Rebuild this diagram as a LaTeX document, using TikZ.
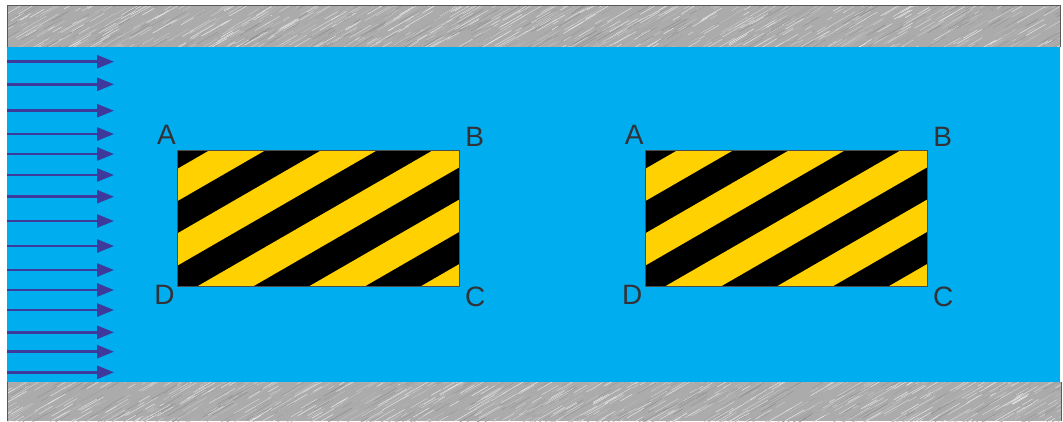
\documentclass[tikz,border=0pt]{standalone}
\usepackage{fontspec}
\setmainfont{Liberation Sans}
\usetikzlibrary{arrows.meta,calc}
\definecolor{flowblue}{RGB}{0,173,238}
\definecolor{hzyellow}{RGB}{255,209,0}
\definecolor{arrowcol}{RGB}{62,58,155}
\definecolor{labelcol}{RGB}{50,50,55}
\tikzset{
  flowarrow/.style={draw=arrowcol, line width=2.6pt, -{Triangle[length=17pt,width=13pt]}},
  hazard/.style={draw=gray!60!black, line width=0.6pt, inner sep=0pt,
    minimum width=281.3pt, minimum height=136.7pt,
    path picture={
      \fill[black] (path picture bounding box.south west) rectangle (path picture bounding box.north east);
      \foreach \k in {-1,...,4}{
        \pgfmathsetmacro\aa{32.3+111.7*\k}
        \pgfmathsetmacro\bb{\aa+55.85}
        \fill[hzyellow] ($(path picture bounding box.north west)+(\aa,0)$)
          -- ($(path picture bounding box.north west)+(\bb,0)$)
          -- ($(path picture bounding box.north west)+(\bb-240,138.6)$)
          -- ($(path picture bounding box.north west)+(\aa-240,138.6)$) -- cycle;
      }
    }},
  cornerlabel/.style={anchor=base, inner sep=0pt, text=labelcol, font=\fontsize{28}{32}\selectfont},
  wallframe/.style={draw=gray!70!black, line width=0.7pt}
}
\newcommand{\wallstreaks}[2]{%
  \foreach \i in {1,...,1600}{
    \pgfmathsetmacro\xa{rnd*1120-50}
    \pgfmathsetmacro\ya{#1+rnd*(#2-#1)}
    \pgfmathsetmacro\ll{5+rnd*28}
    \pgfmathtruncatemacro\cc{6+rnd*40}
    \draw[black!\cc, line width=0.45pt] (\xa,\ya) -- ++(0.866*\ll,-0.5*\ll);
  }%
}
\begin{document}
\begin{tikzpicture}[x=1pt,y=-1pt]
\useasboundingbox[fill=white] (0,0) rectangle (1063,421);
\pgfmathsetseed{7}
% top wall
\begin{scope}
  \clip (7,5) rectangle (1060,46.7);
  \fill[black!33] (7,5) rectangle (1060,46.7);
  \wallstreaks{0}{65}
\end{scope}
\draw[wallframe] (7,46.7) -- (7,5) -- (1060,5) -- (1060,46.7);
% bottom wall
\begin{scope}
  \clip (7,382) rectangle (1061,421);
  \fill[black!33] (7,382) rectangle (1061,421);
  \wallstreaks{375}{440}
\end{scope}
\draw[wallframe] (7,382) -- (7,421);
\draw[wallframe] (1061,382) -- (1061,421);
% fluid
\fill[flowblue] (7,46.7) rectangle (1060,382);
% flow arrows
\foreach \y [count=\n] in {61.7,84.3,110.7,134,154,175,196.7,221,246,270,290,310,332.3,351.7,372.3}{
  \coordinate (s\n) at (7,\y);
  \coordinate (e\n) at (114,\y);
  \draw[flowarrow] (s\n) -- (e\n);
}
% obstacles
\node[hazard] (r1) at (318.35,218.35) {};
\node[hazard] (r2) at (786.2,218.35) {};
\foreach \r in {r1,r2}{
  \node[cornerlabel] (\r A) at ($(\r.north west)+(-11,-5.7)$) {A};
  \node[cornerlabel] (\r B) at ($(\r.north east)+(15.5,-3.3)$) {B};
  \node[cornerlabel] (\r C) at ($(\r.south east)+(16,19)$) {C};
  \node[cornerlabel] (\r D) at ($(\r.south west)+(-13,17.6)$) {D};
}
\end{tikzpicture}
\end{document}
